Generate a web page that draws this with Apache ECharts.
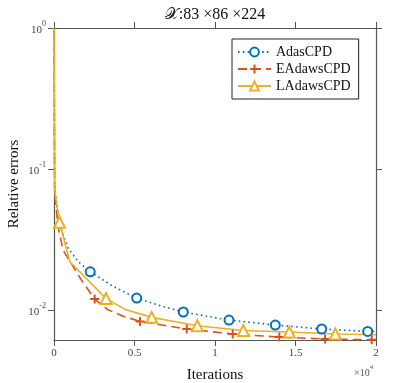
<!DOCTYPE html>
<html>
<head>
<meta charset="utf-8">
<script src="https://cdn.jsdelivr.net/npm/echarts@6/dist/echarts.min.js"></script>
<style>
  html, body { margin: 0; padding: 0; background: #fff; }
  #chart { width: 415px; height: 383px; }
</style>
</head>
<body>
<div id="chart"></div>
<script>
// iterations and relative errors
const itA = [0, 40, 186, 500, 870, 1491, 2250, 3700, 5137, 6580, 8031, 10870, 13745, 16627, 19484, 20000];
const errA = [1, 0.075, 0.054, 0.0357, 0.0275, 0.022, 0.0186, 0.0146, 0.0121, 0.0107, 0.00964, 0.00845, 0.00779, 0.0073, 0.00702, 0.0070];
const markA = [6, 8, 10, 11, 12, 13, 14];

const itE = [0, 40, 248, 559, 1180, 1696, 2528, 3354, 4300, 5342, 8242, 11100, 13994, 16832, 19733, 20000];
const errE = [1, 0.07, 0.039, 0.0266, 0.0203, 0.0163, 0.0119, 0.0100, 0.0090, 0.00826, 0.0073, 0.00673, 0.0064, 0.0062, 0.00612, 0.0061];
const markE = [6, 9, 10, 11, 12, 13, 14];

const itL = [0, 40, 342, 975, 3230, 4391, 6068, 8901, 11760, 14615, 17472, 20000];
const errL = [1, 0.07, 0.0418, 0.022, 0.0120, 0.0101, 0.00883, 0.0077, 0.00713, 0.00695, 0.00673, 0.00665];
const markL = [2, 4, 6, 7, 8, 9, 10];

const names = ['AdasCPD', 'EAdawsCPD', 'LAdawsCPD'];
const xTicks = [0, 5000, 10000, 15000, 20000];
const yTicks = [0.01, 0.1, 1];

const serif = 'Liberation Serif';
const axisGrey = '#555';
const plus = 'path://M0,5L10,5M5,0L5,10';

function points(xs, ys, marks) {
  return xs.map((x, i) => marks.includes(i) ? [x, ys[i]] : { value: [x, ys[i]], symbol: 'none' });
}

function powLabel(v) {
  const e = Math.round(Math.log10(v));
  return '{b|10}{s|' + e + '}';
}

const chart = echarts.init(document.getElementById('chart'));

const tickStyle = { show: true, inside: false, length: 6, lineStyle: { color: axisGrey, width: 1 } };
const lineAx = { show: true, onZero: false, lineStyle: { color: axisGrey, width: 1.2 } };

chart.setOption({
  animation: false,
  backgroundColor: '#fff',
  textStyle: { fontFamily: serif },
  grid: { left: 54, right: 39, top: 28, bottom: 43, containLabel: false, outerBoundsMode: 'none' },
  legend: {
    orient: 'vertical', left: 232, top: 39,
    padding: [6, 8, 6, 5], itemGap: 3, itemWidth: 33, itemHeight: 11,
    backgroundColor: '#fff', borderColor: '#222', borderWidth: 1, borderRadius: 0,
    textStyle: { fontFamily: serif, fontSize: 14, color: '#111' },
    data: names
  },
  xAxis: [{
    type: 'value', min: 0, max: 20000, interval: 5000,
    name: 'Iterations', nameLocation: 'middle', nameGap: 28, nameMoveOverlap: false,
    nameTextStyle: { fontFamily: serif, fontSize: 15, color: '#111' },
    axisLine: lineAx, axisTick: tickStyle, splitLine: { show: false },
    axisLabel: { color: '#444', fontSize: 11, margin: 8, formatter: (v) => xTicks.includes(v) ? String(v / 10000) : '' }
  }, {
    type: 'value', position: 'top', min: 0, max: 20000, interval: 5000,
    axisLine: lineAx, axisTick: tickStyle, axisLabel: { show: false }, splitLine: { show: false }
  }],
  yAxis: [{
    type: 'log', min: 0.0061, max: 1,
    name: 'Relative errors', nameLocation: 'middle', nameGap: 32, nameMoveOverlap: false,
    nameTextStyle: { fontFamily: serif, fontSize: 15, color: '#111' },
    axisLine: lineAx, splitLine: { show: false }, minorTick: { show: false },
    axisTick: Object.assign({ customValues: yTicks }, tickStyle),
    axisLabel: {
      customValues: yTicks, margin: 8, formatter: powLabel,
      rich: {
        b: { fontFamily: serif, fontSize: 11, color: '#444', lineHeight: 16, verticalAlign: 'bottom' },
        s: { fontFamily: serif, fontSize: 8, color: '#444', lineHeight: 16, verticalAlign: 'top' }
      }
    }
  }, {
    type: 'log', position: 'right', min: 0.0061, max: 1,
    axisLine: lineAx, splitLine: { show: false }, minorTick: { show: false },
    axisTick: Object.assign({ customValues: yTicks }, tickStyle),
    axisLabel: { show: false }
  }],
  graphic: [{
    type: 'text', x: 215, y: 7,
    style: { text: '𝒳:83 ×86 ×224', font: '16px "Liberation Serif"', fill: '#111', align: 'center' }
  }, {
    type: 'text', x: 354, y: 364,
    style: {
      text: '{a|×10}{s|4}',
      rich: {
        a: { fontFamily: serif, fontSize: 10, lineHeight: 14, verticalAlign: 'bottom', fill: '#555' },
        s: { fontFamily: serif, fontSize: 7, lineHeight: 14, verticalAlign: 'top', fill: '#555' }
      }
    }
  }],
  series: [{
    name: names[0], type: 'line', data: points(itA, errA, markA),
    symbol: 'emptyCircle', symbolSize: 9, showAllSymbol: true,
    lineStyle: { color: '#0072BD', width: 1.6, type: [1.6, 3.2] },
    itemStyle: { color: '#0072BD', borderWidth: 2 }
  }, {
    name: names[1], type: 'line', data: points(itE, errE, markE),
    symbol: plus, symbolSize: 9, showAllSymbol: true,
    lineStyle: { color: '#D95319', width: 1.6, type: [9, 5] },
    itemStyle: { color: 'none', borderColor: '#D95319', borderWidth: 2 }
  }, {
    name: names[2], type: 'line', data: points(itL, errL, markL),
    symbol: 'emptyTriangle', symbolSize: 11, showAllSymbol: true,
    lineStyle: { color: '#EDB120', width: 1.6 },
    itemStyle: { color: '#EDB120', borderWidth: 2 }
  }]
});
</script>
</body>
</html>
